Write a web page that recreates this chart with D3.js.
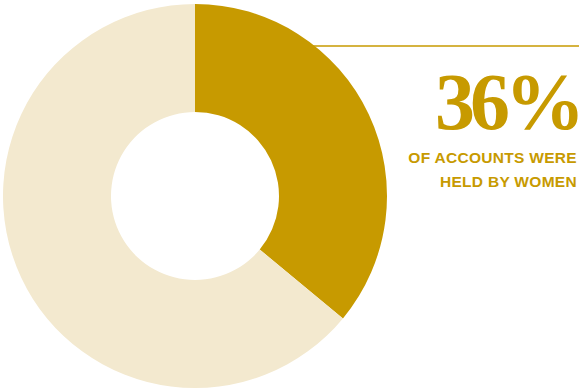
<!DOCTYPE html>
<html>
<head>
<meta charset="utf-8">
<script src="https://cdn.jsdelivr.net/npm/d3@7"></script>
<style>
  html, body { margin: 0; padding: 0; background: #ffffff; }
  svg { display: block; }
</style>
</head>
<body>
<svg id="chart" width="579" height="389"></svg>
<script>
// Share of accounts by holder
const categories = ["Women", "Other"];
const shares = [36, 64];
const sliceColors = ["#C79A00", "#F3E9CF"];
const headline = "36%";
const captionLines = ["OF ACCOUNTS WERE", "HELD BY WOMEN"];

const svg = d3.select("#chart");
const cx = 195, cy = 196;
const outerR = 192, innerR = 84;
const gold = "#C79A00";

// leader rule running out to the right edge, drawn beneath the ring
svg.append("line")
  .attr("x1", 300).attr("x2", 579)
  .attr("y1", 46).attr("y2", 46)
  .attr("stroke", gold)
  .attr("stroke-width", 1.5);

const pie = d3.pie().sort(null).value(d => d.value);
const arc = d3.arc().innerRadius(innerR).outerRadius(outerR);
const data = categories.map((c, i) => ({ name: c, value: shares[i] }));
const color = d3.scaleOrdinal().domain(categories).range(sliceColors);

svg.append("g")
  .attr("transform", `translate(${cx},${cy})`)
  .selectAll("path")
  .data(pie(data))
  .join("path")
  .attr("d", arc)
  .attr("fill", d => color(d.data.name));

// big figure, set tight
svg.append("text")
  .attr("x", 578).attr("y", 129)
  .attr("text-anchor", "start")
  .attr("font-family", "'Liberation Serif', 'DejaVu Serif', serif")
  .attr("font-weight", "bold")
  .attr("font-size", 80)
  .attr("letter-spacing", "-5px")
  .attr("fill", gold)
  .text(headline)
  .each(function () {
    // right-align on the ink box so trailing spacing does not shift it
    const b = this.getBBox();
    d3.select(this).attr("x", 578 - b.width + 2);
  });

// caption
svg.append("g")
  .selectAll("text")
  .data(captionLines)
  .join("text")
  .attr("x", 577)
  .attr("y", (d, i) => 163 + i * 23.5)
  .attr("text-anchor", "end")
  .attr("font-family", "'Liberation Sans', Arial, sans-serif")
  .attr("font-weight", "bold")
  .attr("font-size", 15.5)
  .attr("letter-spacing", "0.3px")
  .attr("fill", gold)
  .text(d => d);
</script>
</body>
</html>
